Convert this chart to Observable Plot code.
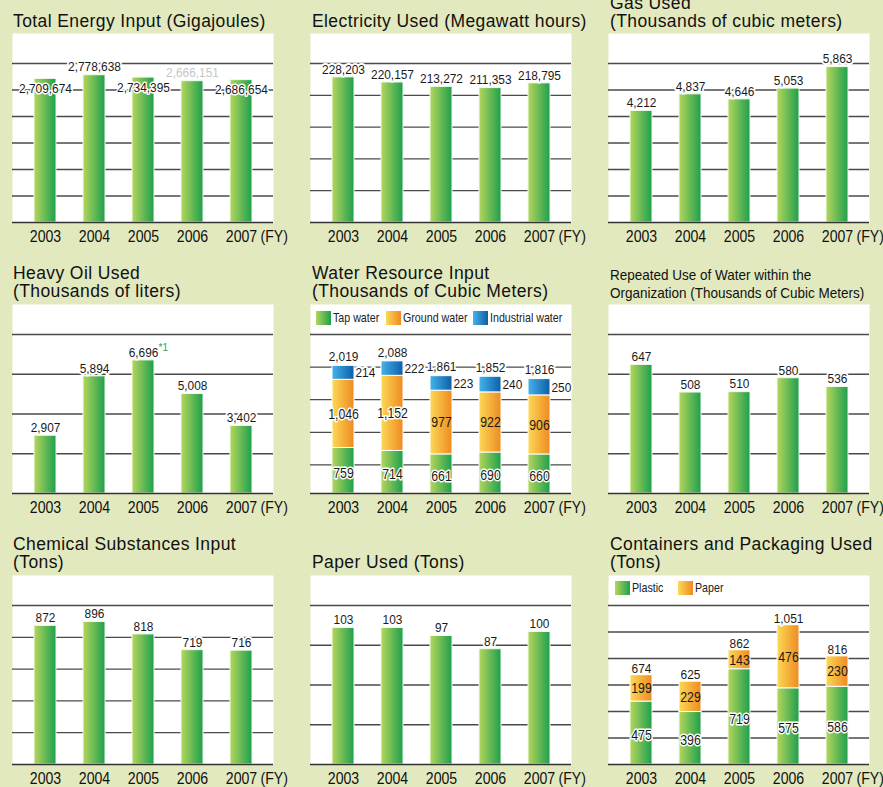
<!DOCTYPE html>
<html><head><meta charset="utf-8">
<script src="https://cdn.jsdelivr.net/npm/d3@7"></script>
<script src="https://cdn.jsdelivr.net/npm/@observablehq/plot@0.6"></script>
<style>
html,body{margin:0;padding:0;}
body{width:883px;height:787px;overflow:hidden;background:#e2e9be;position:relative;font-family:"Liberation Sans",Arial,sans-serif;}
.title{position:absolute;font-size:17.5px;line-height:18px;letter-spacing:0.4px;color:#111;white-space:nowrap;}
.title.narrow{font-size:15px;letter-spacing:0;transform:scaleX(0.9);transform-origin:0 0;}
.panel{position:absolute;}
.panel svg{overflow:visible;}
.lg{position:absolute;font-size:13px;line-height:14px;color:#222;white-space:nowrap;}
.lg.sw{width:15px;height:14px;}
.lg.txt{transform:scaleX(0.82);transform-origin:0 50%;}
</style>
</head><body>
<svg width="0" height="0" style="position:absolute;left:0;top:0">
  <defs>
    <linearGradient id="gGreen" x1="0" x2="1" y1="0" y2="0">
      <stop offset="0" stop-color="#b5d65c"/>
      <stop offset="1" stop-color="#1d9f4d"/>
    </linearGradient>
    <linearGradient id="gOrange" x1="0" x2="1" y1="0" y2="0">
      <stop offset="0" stop-color="#fbd955"/>
      <stop offset="1" stop-color="#ef8a22"/>
    </linearGradient>
    <linearGradient id="gBlue" x1="0" x2="1" y1="0" y2="0">
      <stop offset="0" stop-color="#45b3e9"/>
      <stop offset="1" stop-color="#0d5ea8"/>
    </linearGradient>
  </defs>
</svg>
<script>
// ---------- data ----------
const years = ["2003", "2004", "2005", "2006", "2007"];
const energy = [2709674, 2778638, 2734395, 2666151, 2686654];
const electricity = [228203, 220157, 213272, 211353, 218795];
const gas = [4212, 4837, 4646, 5053, 5863];
const heavyOil = [2907, 5894, 6696, 5008, 3402];
const heavyOilNotes = ["", "", "*1", "", ""];
const tapWater = [759, 714, 661, 690, 660];
const groundWater = [1046, 1152, 977, 922, 906];
const industrialWater = [214, 222, 223, 240, 250];
const waterTotal = [2019, 2088, 1861, 1852, 1816];
const repeatedWater = [647, 508, 510, 580, 536];
const chemicals = [872, 896, 818, 719, 716];
const paperUsed = [103, 103, 97, 87, 100];
const plasticPack = [475, 396, 719, 575, 586];
const paperPack = [199, 229, 143, 476, 230];
const packTotal = [674, 625, 862, 1051, 816];

const energyTicks = [0, 500000, 1000000, 1500000, 2000000, 2500000, 3000000];
const electricityTicks = [0, 50000, 100000, 150000, 200000, 250000];
const gasTicks = [0, 1000, 2000, 3000, 4000, 5000, 6000];
const heavyOilTicks = [0, 2000, 4000, 6000, 8000];
const waterTicks = [0, 500, 1000, 1500, 2000, 2500];
const repeatedTicks = [0, 200, 400, 600, 800];
const chemTicks = [0, 200, 400, 600, 800, 1000];
const paperTicks = [0, 30, 60, 90, 120];
const packTicks = [0, 200, 400, 600, 800, 1000, 1200];

const titles = [
  ["Total Energy Input (Gigajoules)"],
  ["Electricity Used (Megawatt hours)"],
  ["Gas Used", "(Thousands of cubic meters)"],
  ["Heavy Oil Used", "(Thousands of liters)"],
  ["Water Resource Input", "(Thousands of Cubic Meters)"],
  ["Repeated Use of Water within the", "Organization (Thousands of Cubic Meters)"],
  ["Chemical Substances Input", "(Tons)"],
  ["Paper Used (Tons)"],
  ["Containers and Packaging Used", "(Tons)"]
];
const waterLegend = ["Tap water", "Ground water", "Industrial water"];
const packLegend = ["Plastic", "Paper"];

// ---------- layout ----------
const FONT = "'Liberation Sans', Arial, sans-serif";
const fmt = d3.format(",");
const H = 189, GAP = 30, W = 261;
const colX = [12, 310, 608], rowY = [33, 304, 575];
const titleLeft = [13, 312, 610];
const titleTop = [[12, 12, -6], [264, 264, 266], [535, 553, 535]];

titles.forEach((lines, k) => {
  const col = k % 3, row = Math.floor(k / 3);
  const div = document.createElement("div");
  div.className = "title" + (k === 5 ? " narrow" : "");
  div.style.left = titleLeft[col] + "px";
  div.style.top = titleTop[row][col] + "px";
  div.innerHTML = lines.join("<br>");
  document.body.appendChild(div);
});

function series(values) { return years.map((year, i) => ({year, value: values[i], i})); }

const labelStyle = {fontSize: 13.5, fill: "#1a1a1a", stroke: "white", strokeWidth: 4, paintOrder: "stroke"};
const innerStyle = {...labelStyle, fontSize: 15, strokeWidth: 3};
const barStyle = {stroke: "#f2faee", strokeWidth: 1};

// horizontally condense the svg texts around their anchor (condensed-type look)
function condense(svg) {
  svg.querySelectorAll("text").forEach(t => {
    const fs = parseFloat(getComputedStyle(t).fontSize);
    const s = fs >= 16 ? 0.83 : fs >= 14.5 ? 0.82 : fs >= 12 ? 0.88 : 1;
    if (s === 1) return;
    const x = parseFloat(t.getAttribute("x")) || 0, y = parseFloat(t.getAttribute("y")) || 0;
    const old = t.getAttribute("transform") || "";
    t.setAttribute("transform", `${old} translate(${x},${y}) scale(${s},1) translate(${-x},${-y})`);
  });
}

// y extent: top tick sits GAP px under the frame top; zero may sit zb px below the frame bottom
function yExtent(ticks, zb = 0) {
  const topTick = ticks[ticks.length - 1];
  const k = (H + zb - GAP) / topTick;
  return {ymin: zb / k, ymax: (H + zb) / k};
}

function addPanel(col, row, ticks, marks, ext = yExtent(ticks)) {
  const chart = Plot.plot({
    width: W, height: H + 26,
    marginLeft: 0, marginRight: 0, marginTop: 0, marginBottom: 26,
    style: {background: "transparent", overflow: "visible", fontFamily: FONT, fontSize: "17px", color: "#111"},
    x: {domain: years, range: [8.5, 253.5], paddingInner: 0.55, paddingOuter: 0.275, tickSize: 0, tickPadding: 7, label: null},
    y: {domain: [ext.ymin, ext.ymax], axis: null},
    marks: [
      Plot.frame({fill: "white", stroke: "none"}),
      Plot.ruleY(ticks.slice(1), {stroke: "#4a4a4a", strokeWidth: 1.3}),
      ...marks,
      Plot.ruleY([ext.ymin], {stroke: "#333", strokeWidth: 1.7}),
      Plot.text(["(FY)"], {x: () => "2007", frameAnchor: "bottom", lineAnchor: "top", dy: 7, dx: 19, textAnchor: "start", fontSize: 17, fill: "#111"})
    ]
  });
  const wrap = document.createElement("div");
  wrap.className = "panel";
  wrap.style.left = colX[col] + "px";
  wrap.style.top = rowY[row] + "px";
  wrap.appendChild(chart);
  document.body.appendChild(wrap);
  chart.querySelectorAll('g[aria-label^="x-axis"] text').forEach(t => t.setAttribute("font-size", 17));
  condense(chart);
}

function simplePanel(col, row, values, ticks, extra = []) {
  const data = series(values);
  addPanel(col, row, ticks, [
    Plot.barY(data, {x: "year", y: "value", fill: "url(#gGreen)", ...barStyle}),
    Plot.text(data, {x: "year", y: "value", text: d => fmt(d.value), dy: -8, ...labelStyle}),
    ...extra
  ]);
}

// Panel 1: total energy (labels alternate below / above bar tops)
{
  const data = series(energy);
  addPanel(0, 0, energyTicks, [
    Plot.barY(data, {x: "year", y: "value", fill: "url(#gGreen)", ...barStyle}),
    Plot.text(data, {filter: d => d.i % 2 === 0, x: "year", y: "value", text: d => fmt(d.value), dy: 10, ...labelStyle, strokeWidth: 3}),
    Plot.text(data, {filter: d => d.i === 1, x: "year", y: "value", text: d => fmt(d.value), dy: -9, ...labelStyle}),
    Plot.text(data, {filter: d => d.i === 3, x: "year", y: "value", text: d => fmt(d.value), dy: -9, ...labelStyle, fill: "#c6c6c6", stroke: "none"})
  ]);
}
simplePanel(1, 0, electricity, electricityTicks);
simplePanel(2, 0, gas, gasTicks);
{
  const notes = years.map((year, i) => ({year, value: heavyOil[i], note: heavyOilNotes[i]})).filter(d => d.note);
  simplePanel(0, 1, heavyOil, heavyOilTicks, [
    Plot.text(notes, {x: "year", y: "value", text: "note", dx: 15, dy: -13, textAnchor: "start", fontSize: 10, fill: "#3a9e55"})
  ]);
}
// Panel 5: water (stacked); its zero sits a few px under the visible base line
{
  const ext = yExtent(waterTicks, 4);
  const data = years.map((year, i) => ({year, i, tap: tapWater[i], ground: groundWater[i], industrial: industrialWater[i], total: waterTotal[i]}));
  addPanel(1, 1, waterTicks, [
    Plot.barY(data, {x: "year", y1: ext.ymin, y2: d => d.tap, fill: "url(#gGreen)", ...barStyle}),
    Plot.barY(data, {x: "year", y1: d => d.tap, y2: d => d.tap + d.ground, fill: "url(#gOrange)", stroke: "white", strokeWidth: 1}),
    Plot.barY(data, {x: "year", y1: d => d.tap + d.ground, y2: d => d.tap + d.ground + d.industrial, fill: "url(#gBlue)", stroke: "white", strokeWidth: 1}),
    Plot.text(data, {x: "year", y: "total", text: d => fmt(d.total), dy: -9, ...labelStyle}),
    Plot.text(data, {x: "year", y: d => d.tap + d.ground + d.industrial / 2, text: d => fmt(d.industrial), dx: 12, textAnchor: "start", ...labelStyle}),
    Plot.text(data, {filter: d => d.i < 2, x: "year", y: d => d.tap + d.ground / 2, text: d => fmt(d.ground), ...innerStyle}),
    Plot.text(data, {filter: d => d.i >= 2, x: "year", y: d => d.tap + d.ground / 2, text: d => fmt(d.ground), ...innerStyle, stroke: "none"}),
    Plot.text(data, {x: "year", y: d => d.tap / 2, text: d => fmt(d.tap), ...innerStyle})
  ], ext);
}
simplePanel(2, 1, repeatedWater, repeatedTicks);
simplePanel(0, 2, chemicals, chemTicks);
simplePanel(1, 2, paperUsed, paperTicks);
// Panel 9: containers (stacked)
{
  const data = years.map((year, i) => ({year, plastic: plasticPack[i], paper: paperPack[i], total: packTotal[i]}));
  addPanel(2, 2, packTicks, [
    Plot.barY(data, {x: "year", y1: 0, y2: d => d.plastic, fill: "url(#gGreen)", ...barStyle}),
    Plot.barY(data, {x: "year", y1: d => d.plastic, y2: d => d.plastic + d.paper, fill: "url(#gOrange)", stroke: "white", strokeWidth: 1}),
    Plot.text(data, {x: "year", y: "total", text: d => fmt(d.total), dy: -7, ...labelStyle}),
    Plot.text(data, {x: "year", y: d => d.plastic + d.paper / 2, text: d => fmt(d.paper), ...innerStyle, stroke: "none"}),
    Plot.text(data, {x: "year", y: d => d.plastic / 2, text: d => fmt(d.plastic), dy: 2, ...innerStyle})
  ]);
}

// ---------- legends (HTML, inside white plot areas) ----------
const grad = {
  green: "linear-gradient(to right,#b5d65c,#1d9f4d)",
  orange: "linear-gradient(to right,#fbd955,#ef8a22)",
  blue: "linear-gradient(to right,#45b3e9,#0d5ea8)"
};
function legend(top, lefts, labels, colors) {
  labels.forEach((lab, i) => {
    const sw = document.createElement("div");
    sw.className = "lg sw";
    sw.style.left = lefts[i] + "px"; sw.style.top = top + "px"; sw.style.background = colors[i];
    const tx = document.createElement("div");
    tx.className = "lg txt";
    tx.style.left = (lefts[i] + 17) + "px"; tx.style.top = top + "px";
    tx.textContent = lab;
    document.body.appendChild(sw); document.body.appendChild(tx);
  });
}
legend(311, [316, 386, 473], waterLegend, [grad.green, grad.orange, grad.blue]);
legend(581, [615, 678], packLegend, [grad.green, grad.orange]);
</script>
</body></html>
